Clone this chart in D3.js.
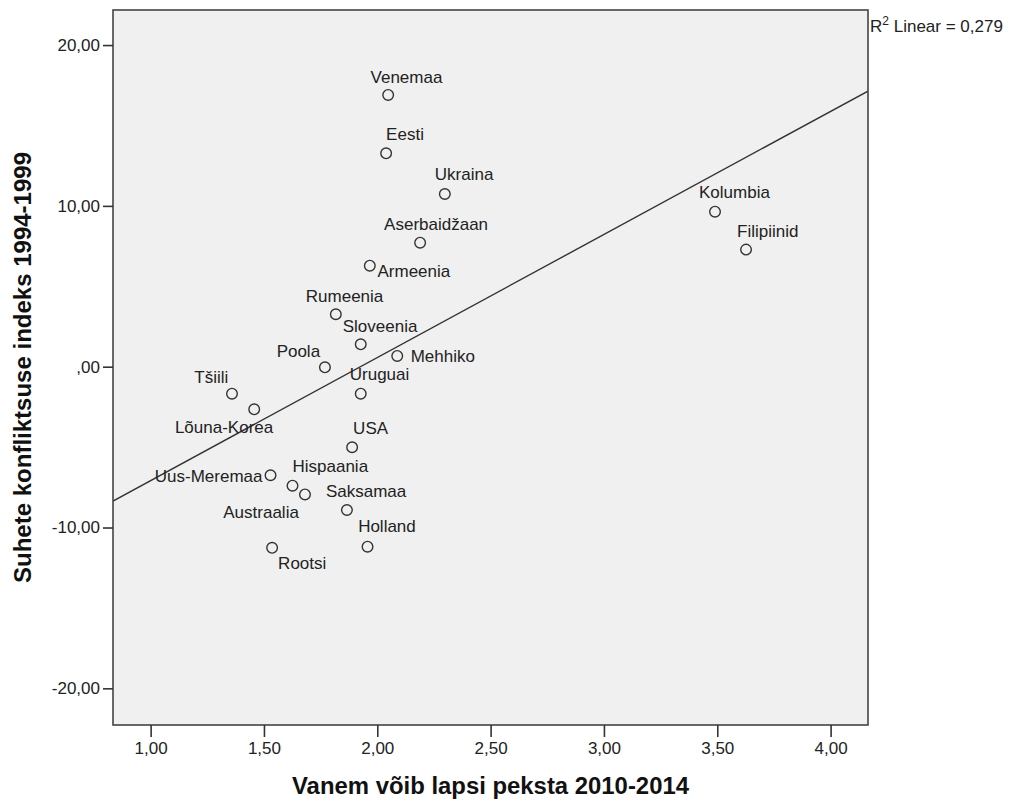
<!DOCTYPE html>
<html>
<head>
<meta charset="utf-8">
<script src="https://cdn.jsdelivr.net/npm/d3@7"></script>
<style>
  html, body { margin: 0; padding: 0; background: #ffffff; }
  svg { display: block; }
  text { font-family: "Liberation Sans", Arial, sans-serif; }
</style>
</head>
<body>
<svg id="chart" width="1012" height="800"></svg>
<script>
// ---------------- DATA ----------------
const countries = ["Venemaa", "Eesti", "Ukraina", "Aserbaidžaan", "Armeenia", "Rumeenia",
  "Sloveenia", "Mehhiko", "Poola", "Uruguai", "Tšiili", "Lõuna-Korea", "USA", "Uus-Meremaa",
  "Hispaania", "Austraalia", "Saksamaa", "Holland", "Rootsi", "Kolumbia", "Filipiinid"];
const beatValues = [2.048, 2.039, 2.298, 2.189, 1.967, 1.817,
  1.927, 2.088, 1.769, 1.927, 1.359, 1.457, 1.889, 1.529,
  1.626, 1.681, 1.866, 1.957, 1.536, 3.490, 3.627];
const conflictValues = [16.90, 13.27, 10.74, 7.71, 6.28, 3.26,
  1.39, 0.67, -0.04, -1.68, -1.68, -2.65, -5.01, -6.75,
  -7.40, -7.94, -8.91, -11.19, -11.26, 9.64, 7.28];
const xTicks = [1.0, 1.5, 2.0, 2.5, 3.0, 3.5, 4.0];
const xTickLabels = ["1,00", "1,50", "2,00", "2,50", "3,00", "3,50", "4,00"];
const yTicks = [20, 10, 0, -10, -20];
const yTickLabels = ["20,00", "10,00", ",00", "-10,00", "-20,00"];
const xTitle = "Vanem võib lapsi peksta 2010-2014";
const yTitle = "Suhete konfliktsuse indeks 1994-1999";
const r2Text = " Linear = 0,279";

// ---------------- LAYOUT ----------------
const plot = { left: 113, right: 868, top: 10, bottom: 725 };
// label placement relative to the point (left edge / baseline)
const labelOffsets = {
  "Venemaa": [-17.6, -12.3], "Eesti": [0, -13.3], "Ukraina": [-10, -14],
  "Aserbaidžaan": [-36, -12.7], "Armeenia": [7.7, 11.3], "Rumeenia": [-30, -12.3],
  "Sloveenia": [-18, -12.3], "Mehhiko": [13.4, 6], "Poola": [-48.3, -10.3],
  "Uruguai": [-11, -13.7], "Tšiili": [-37.7, -10.4], "Lõuna-Korea": [-79.3, 23.4],
  "USA": [1, -13.3], "Uus-Meremaa": [-115.7, 6.4], "Hispaania": [0, -14],
  "Austraalia": [-81.7, 23.4], "Saksamaa": [-21, -13.3], "Holland": [-9.4, -14.4],
  "Rootsi": [6, 21.6], "Kolumbia": [-16, -13.4], "Filipiinid": [-9, -12.4]
};

const svg = d3.select("#chart");
const x = d3.scaleLinear().domain([0.834, 4.165]).range([plot.left, plot.right]);
const y = d3.scaleLinear().domain([-22.28, 22.18]).range([plot.bottom, plot.top]);

// background
svg.append("rect")
  .attr("x", plot.left).attr("y", plot.top)
  .attr("width", plot.right - plot.left).attr("height", plot.bottom - plot.top)
  .attr("fill", "#f0f0f0");

// clip
svg.append("defs").append("clipPath").attr("id", "clip")
  .append("rect").attr("x", plot.left).attr("y", plot.top)
  .attr("width", plot.right - plot.left).attr("height", plot.bottom - plot.top);

// regression from data
const data = countries.map((c, i) => ({ name: c, x: beatValues[i], y: conflictValues[i] }));
const mx = d3.mean(data, d => d.x), my = d3.mean(data, d => d.y);
const sxy = d3.sum(data, d => (d.x - mx) * (d.y - my));
const sxx = d3.sum(data, d => (d.x - mx) * (d.x - mx));
const slope = sxy / sxx, intercept = my - slope * mx;
const xd = x.domain();
svg.append("line")
  .attr("clip-path", "url(#clip)")
  .attr("x1", x(xd[0])).attr("y1", y(intercept + slope * xd[0]))
  .attr("x2", x(xd[1])).attr("y2", y(intercept + slope * xd[1]))
  .attr("stroke", "#333").attr("stroke-width", 1.4);

// points
svg.append("g").selectAll("circle").data(data).join("circle")
  .attr("cx", d => x(d.x)).attr("cy", d => y(d.y)).attr("r", 5.3)
  .attr("fill", "none").attr("stroke", "#333").attr("stroke-width", 1.4);

// labels
svg.append("g").selectAll("text").data(data).join("text")
  .attr("x", d => x(d.x) + labelOffsets[d.name][0])
  .attr("y", d => y(d.y) + labelOffsets[d.name][1])
  .attr("font-size", 17).attr("fill", "#222")
  .text(d => d.name);

// frame
svg.append("rect")
  .attr("x", plot.left).attr("y", plot.top)
  .attr("width", plot.right - plot.left).attr("height", plot.bottom - plot.top)
  .attr("fill", "none").attr("stroke", "#444").attr("stroke-width", 1.6);

// x axis
const xAxis = d3.axisBottom(x).tickValues(xTicks)
  .tickFormat((d, i) => xTickLabels[i]).tickSize(12).tickPadding(5);
const gx = svg.append("g").attr("transform", `translate(0,${plot.bottom})`).call(xAxis);
gx.select(".domain").remove();
gx.selectAll("line").attr("stroke", "#333").attr("stroke-width", 1.6);
gx.selectAll("text").attr("font-size", 17).attr("fill", "#222")
  .attr("font-family", "'Liberation Sans', Arial, sans-serif");

// y axis
const yAxis = d3.axisLeft(y).tickValues(yTicks)
  .tickFormat((d, i) => yTickLabels[i]).tickSize(10).tickPadding(3);
const gy = svg.append("g").attr("transform", `translate(${plot.left},0)`).call(yAxis);
gy.select(".domain").remove();
gy.selectAll("line").attr("stroke", "#333").attr("stroke-width", 1.6);
gy.selectAll("text").attr("font-size", 17).attr("fill", "#222")
  .attr("font-family", "'Liberation Sans', Arial, sans-serif");

// axis titles
svg.append("text")
  .attr("x", (plot.left + plot.right) / 2).attr("y", 794)
  .attr("text-anchor", "middle").attr("font-size", 23).attr("font-weight", "bold")
  .attr("fill", "#111")
  .attr("textLength", 397).attr("lengthAdjust", "spacingAndGlyphs")
  .text(xTitle);

svg.append("text")
  .attr("transform", `translate(31,${(plot.top + plot.bottom) / 2}) rotate(-90)`)
  .attr("text-anchor", "middle").attr("font-size", 24).attr("font-weight", "bold")
  .attr("fill", "#111")
  .attr("textLength", 431).attr("lengthAdjust", "spacingAndGlyphs")
  .text(yTitle);

// R2 label
const r2 = svg.append("text").attr("x", 870).attr("y", 31.5)
  .attr("font-size", 17).attr("fill", "#222");
r2.append("tspan").text("R");
r2.append("tspan").attr("dy", -7).attr("font-size", 12).text("2");
r2.append("tspan").attr("dy", 7).text(r2Text);
</script>
</body>
</html>
